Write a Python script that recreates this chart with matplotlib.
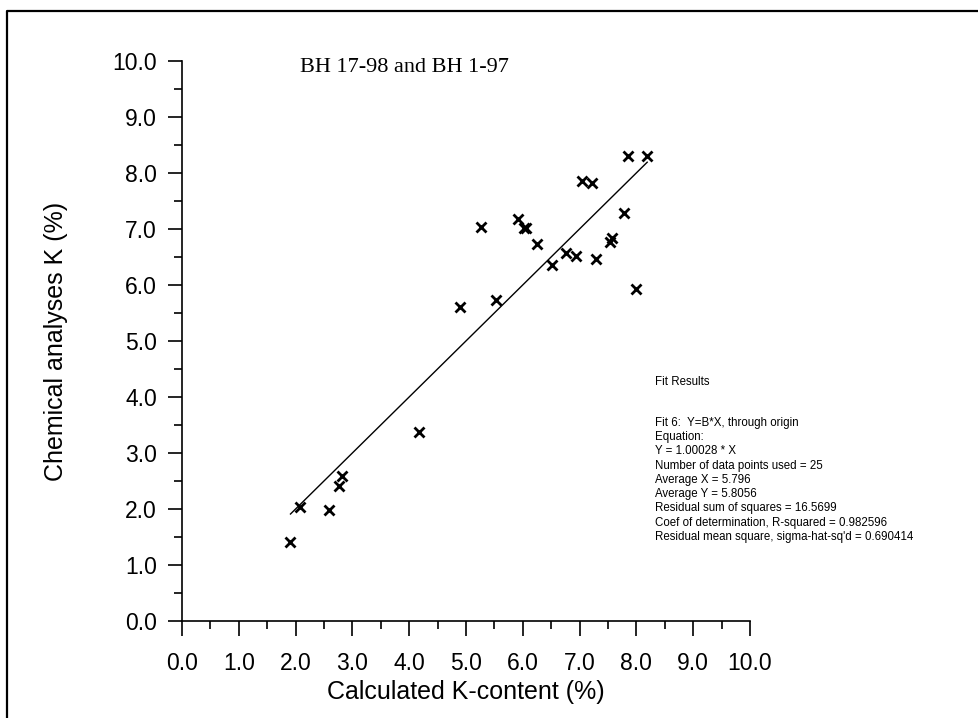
import numpy as np
import matplotlib.pyplot as plt
from matplotlib.lines import Line2D

# values
calc_k = [1.91, 2.08, 2.58, 2.76, 2.82, 4.17, 4.89, 5.27, 5.52, 5.91, 6.02, 6.06, 6.25,
          6.51, 6.76, 6.93, 7.05, 7.22, 7.29, 7.54, 7.57, 7.79, 7.86, 7.99, 8.19]
chem_k = [1.41, 2.03, 1.98, 2.41, 2.59, 3.37, 5.61, 7.03, 5.73, 7.17, 7.01, 7.01, 6.74,
          6.36, 6.57, 6.52, 7.86, 7.82, 6.46, 6.76, 6.84, 7.29, 8.31, 5.92, 8.31]
slope = 1.00028

title = "BH 17-98 and BH 1-97"
fit_lines = [
    "Fit 6:  Y=B*X, through origin",
    "Equation:",
    "Y = 1.00028 * X",
    "Number of data points used = 25",
    "Average X = 5.796",
    "Average Y = 5.8056",
    "Residual sum of squares = 16.5699",
    "Coef of determination, R-squared = 0.982596",
    "Residual mean square, sigma-hat-sq'd = 0.690414",
]

W, H = 979, 718
plt.rcParams['font.family'] = ['Liberation Sans', 'DejaVu Sans']

fig = plt.figure(figsize=(W / 100, H / 100), dpi=100)
# axes: x 0..10 -> px 182..750, y 0..10 -> px 621..61
ax = fig.add_axes([182 / W, 1 - 621 / H, (750 - 182) / W, (621 - 61) / H])

x = np.array(calc_k)
y = np.array(chem_k)
ax.plot(x, y, linestyle='none', marker='x', color='black', markersize=6.8, markeredgewidth=2.0)

xf = np.array([x.min(), x.max()])
ax.plot(xf, slope * xf, color='black', linewidth=1.0)

ax.set_xlim(0, 10)
ax.set_ylim(0, 10)
ticks = np.arange(0, 10.1, 1.0)
ax.set_xticks(ticks)
ax.set_yticks(ticks)
ax.set_xticklabels([f"{t:.1f}" for t in ticks])
ax.set_yticklabels([f"{t:.1f}" for t in ticks])
ax.set_xticks(np.arange(0.5, 10, 1.0), minor=True)
ax.set_yticks(np.arange(0.5, 10, 1.0), minor=True)

for s in ['top', 'right']:
    ax.spines[s].set_visible(False)
for s in ['left', 'bottom']:
    ax.spines[s].set_linewidth(1.2)
    ax.spines[s].set_color('black')

ax.tick_params(which='major', direction='out', length=10, width=1.2, labelsize=16.5, pad=8)
ax.tick_params(which='minor', direction='out', length=5.5, width=1.2)
ax.tick_params(axis='x', which='major', length=11, pad=11)

ax.set_xlabel("Calculated K-content (%)", fontsize=18)
ax.set_ylabel("Chemical analyses K (%)", fontsize=18)
ax.xaxis.set_label_coords(0.5, -0.105)
ax.yaxis.set_label_coords(-0.2, 0.5)

fig.text(300 / W, 1 - 67 / H, title, family='Liberation Serif', fontsize=16,
         ha='left', va='center')

fig.text(655 / W, 1 - 382 / H, "Fit Results", fontsize=8.3, ha='left', va='center')
fig.text(655 / W, 1 - 417 / H, "\n".join(fit_lines), fontsize=8.3, ha='left', va='top',
         linespacing=1.25)

# outer frame: top and left edges only
fig.add_artist(Line2D([7 / W, 7 / W, 1.0], [0.0, 1 - 11 / H, 1 - 11 / H],
                      transform=fig.transFigure, color='black', linewidth=1.6))

fig.savefig("out.png", dpi=100)
